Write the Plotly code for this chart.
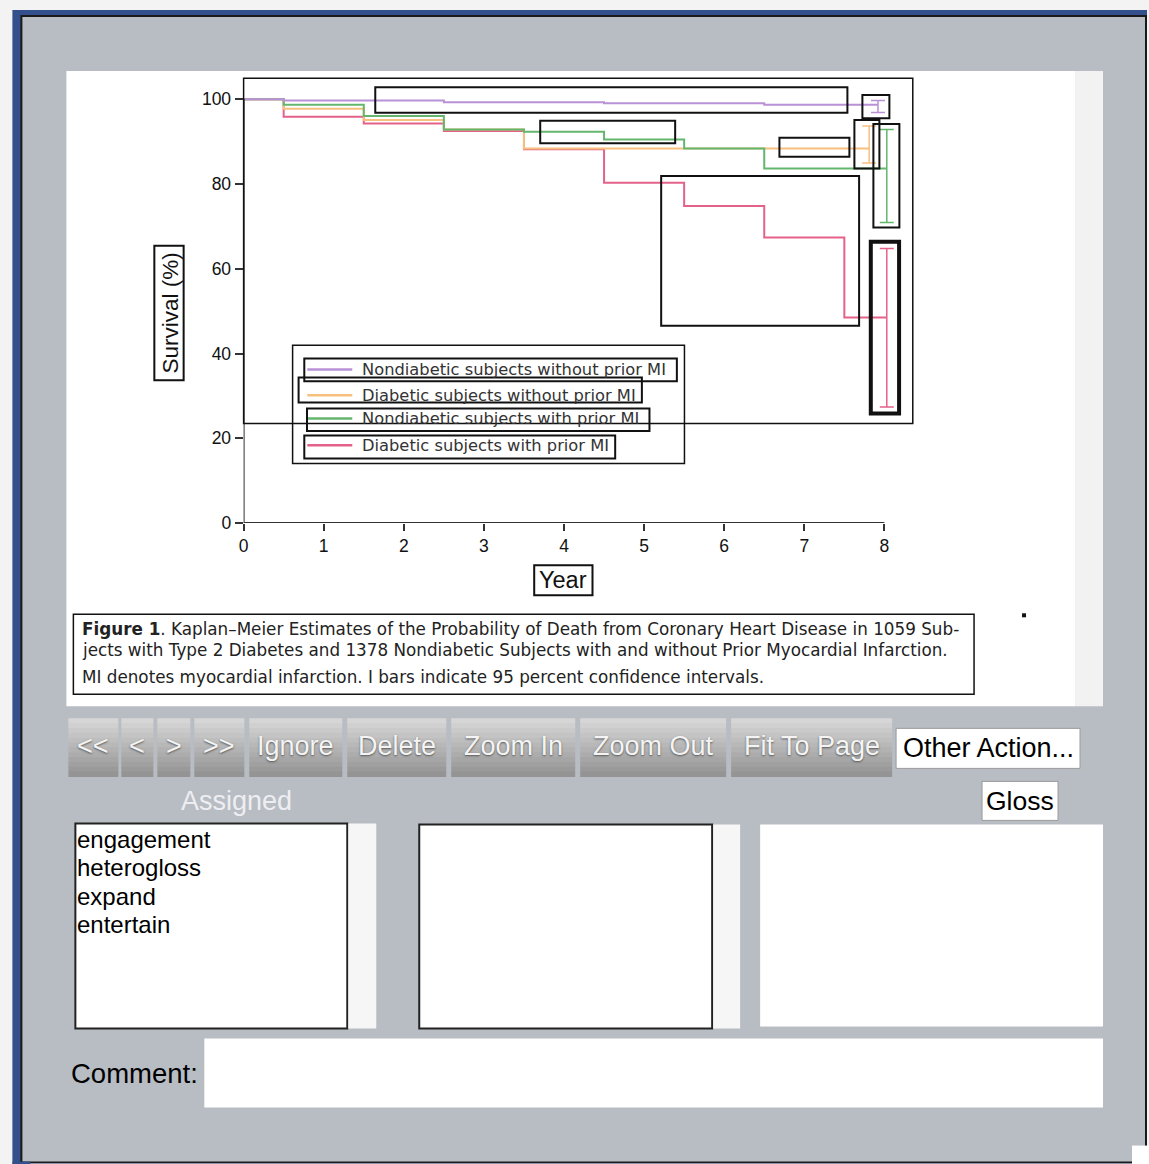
import plotly.graph_objects as go

# target picture size and the page size used to produce it
W, H = 1149, 1164
SX, OX, SY = 0.996, 4.6, 0.991      # observed photograph mapping (page -> picture)
WF, HF = 1149, 1175                  # figure size on the page

# ---------------- data ----------------
series_names = [
    "Nondiabetic subjects without prior MI",
    "Diabetic subjects without prior MI",
    "Nondiabetic subjects with prior MI",
    "Diabetic subjects with prior MI",
]
series_colors = ["rgb(185,145,215)", "rgb(247,192,125)", "rgb(100,182,110)", "rgb(228,98,138)"]

nd_noMI_x = [0, 0.5, 2.5, 4.5, 6.5, 7.92]
nd_noMI_y = [100, 99.7, 99.3, 99.05, 98.7, 98.7]
d_noMI_x = [0, 0.5, 1.5, 2.5, 3.5, 7.81]
d_noMI_y = [100, 97.8, 95.1, 92.9, 88.4, 88.4]
nd_MI_x = [0, 0.5, 1.5, 2.5, 3.5, 4.5, 5.5, 6.5, 8.03]
nd_MI_y = [100, 98.7, 96.05, 92.9, 92.35, 90.55, 88.4, 83.7, 83.7]
d_MI_x = [0, 0.5, 1.5, 2.5, 3.5, 4.5, 5.5, 6.5, 7.5, 8.03]
d_MI_y = [100, 95.9, 94.3, 92.5, 88.2, 80.3, 74.8, 67.4, 48.5, 48.5]

# 95% CI at end of follow-up (lower, upper)
ci_low = [96.9, 85.0, 70.95, 27.4]
ci_high = [99.7, 93.7, 92.9, 64.8]

x_ticks = [0, 1, 2, 3, 4, 5, 6, 7, 8]
y_ticks = [0, 20, 40, 60, 80, 100]

caption_lines = [
    "<b>Figure 1</b>. Kaplan\u2013Meier Estimates of the Probability of Death from Coronary Heart Disease in 1059 Sub-",
    "jects with Type 2 Diabetes and 1378 Nondiabetic Subjects with and without Prior Myocardial Infarction.",
    "MI denotes myocardial infarction. I bars indicate 95 percent confidence intervals.",
]
buttons = ["<<", "<", ">", ">>", "Ignore", "Delete", "Zoom In", "Zoom Out", "Fit To Page"]
assigned_items = ["engagement", "heterogloss", "expand", "entertain"]

series_x = [nd_noMI_x, d_noMI_x, nd_MI_x, d_MI_x]
series_y = [nd_noMI_y, d_noMI_y, nd_MI_y, d_MI_y]

# ---------------- helpers (picture pixel -> paper) ----------------
def px(x):
    return ((x - OX) / SX) / WF

def py(y):
    return 1 - (y / SY) / HF

shapes = []
annots = []

def rect(x0, y0, x1, y1, fill=None, line=None, lw=1, layer="below"):
    shapes.append(dict(type="rect", xref="paper", yref="paper",
                       x0=px(x0), x1=px(x1), y0=py(y1), y1=py(y0),
                       fillcolor=fill if fill else "rgba(0,0,0,0)",
                       line=dict(color=line if line else "rgba(0,0,0,0)", width=lw if line else 0),
                       layer=layer))

def hline(x0, x1, y, color, lw, layer="above"):
    shapes.append(dict(type="line", xref="paper", yref="paper",
                       x0=px(x0), x1=px(x1), y0=py(y), y1=py(y),
                       line=dict(color=color, width=lw), layer=layer))

SANS = "Liberation Sans, Arial, Helvetica, sans-serif"
FIG = "DejaVu Sans, Liberation Sans, sans-serif"

def text(t, x, y, size, color="#111", xanchor="left", yanchor="middle", family=SANS,
         angle=0, shadow=None):
    f = dict(size=size, color=color, family=family)
    if shadow:
        f["shadow"] = shadow
    annots.append(dict(text=t, x=px(x), y=py(y), xref="paper", yref="paper",
                       xanchor=xanchor, yanchor=yanchor, showarrow=False,
                       font=f, textangle=angle, borderpad=0))

# ---------------- UI frame ----------------
rect(12, 10, 1160, 1180, fill="#34508c")
rect(20, 15, 1147, 1163, fill="#1a1a1a")
rect(22, 17, 1145, 1161, fill="#b8bcc3")
rect(1147, 10, 1160, 1180, fill="#f3f3f3")
rect(12, 1163, 1160, 1180, fill="#f3f3f3")
rect(12, 1161, 30, 1164, fill="#34508c")
rect(1132, 1145, 1160, 1180, fill="#ffffff")

# white page area + scrollbar strip
rect(66, 71, 1075, 706, fill="#ffffff")
rect(1075, 71, 1103, 706, fill="#f2f2f2")

# caption box
rect(73, 614, 974, 694, fill="#ffffff", line="#111", lw=1.5)
cap_y = [629, 650, 677]
for t, yy in zip(caption_lines, cap_y):
    text(t, 81, yy, 16.8, color="#222", family=FIG)
# stray dot
rect(1022, 613, 1026, 617, fill="#111")

# buttons with gradient
btn_edges = [(68, 118), (121, 153), (157, 190), (194, 244), (249, 342), (347, 446),
             (451, 575), (580, 726), (731, 892)]
top_c = (214, 214, 214)
bot_c = (148, 148, 148)
nb = 12
by0, by1 = 718, 776
for (x0, x1), lab in zip(btn_edges, buttons):
    for i in range(nb):
        f = i / (nb - 1)
        c = tuple(int(top_c[k] + (bot_c[k] - top_c[k]) * f) for k in range(3))
        rect(x0, by0 + (by1 - by0) * i / nb, x1, by0 + (by1 - by0) * (i + 1) / nb + 0.5,
             fill="rgb(%d,%d,%d)" % c)
    text(lab, (x0 + x1) / 2, 746, 27, color="#f4f4f4", xanchor="center",
         shadow="0px 1px 2px #555")
rect(896, 728, 1080, 768, fill="#ffffff", line="#9a9a9a", lw=1)
text("Other Action...", 988, 748, 27, color="#000", xanchor="center")

text("Assigned", 236, 801, 27, color="#eeeef2", xanchor="center")
rect(982, 781, 1058, 820, fill="#ffffff", line="#9a9a9a", lw=1)
text("Gloss", 1020, 801, 26.5, color="#000", xanchor="center")

# list boxes
rect(75, 823, 347, 1028, fill="#ffffff", line="#222", lw=2)
rect(348, 823, 376, 1028, fill="#f6f6f6")
rect(419, 824, 712, 1028, fill="#ffffff", line="#222", lw=2)
rect(713, 824, 740, 1028, fill="#f6f6f6")
rect(760, 824, 1103, 1026, fill="#ffffff")
for i, it in enumerate(assigned_items):
    text(it, 76, 839 + 28.5 * i, 24, color="#000")

text("Comment:", 70, 1073, 27.5, color="#000")
rect(204, 1038, 1103, 1107, fill="#ffffff")

# ---------------- chart axes geometry ----------------
X0_PX, X8_PX = 243.3, 884.3
Y0_PX, Y100_PX = 522.7, 99.3
xs = (X8_PX - X0_PX) / 8.0
ys = (Y0_PX - Y100_PX) / 100.0
x_max = 8.5
y_max = 104
x_dom = [px(X0_PX), px(X0_PX + x_max * xs)]
y_dom = [py(Y0_PX), py(Y0_PX - y_max * ys)]

fig = go.Figure()

# draw order: pink, orange, green, purple (purple on top)
order = [3, 1, 2, 0]
for i in order:
    fig.add_trace(go.Scatter(x=series_x[i], y=series_y[i], mode="lines", line_shape="hv",
                             line=dict(color=series_colors[i], width=2),
                             name=series_names[i], showlegend=False, hoverinfo="skip"))
for i in order:
    xe = series_x[i][-1]
    ye = series_y[i][-1]
    fig.add_trace(go.Scatter(x=[xe], y=[ye], mode="markers",
                             marker=dict(size=1, color="rgba(0,0,0,0)"),
                             error_y=dict(type="data", symmetric=False,
                                          array=[ci_high[i] - ye], arrayminus=[ye - ci_low[i]],
                                          color=series_colors[i], thickness=1.5, width=7),
                             showlegend=False, hoverinfo="skip"))

# axis lines in data coordinates
shapes.append(dict(type="line", xref="x", yref="y", x0=0, x1=8, y0=0, y1=0,
                   line=dict(color="#333", width=2), layer="above"))
shapes.append(dict(type="line", xref="x", yref="y", x0=0, x1=0, y0=0, y1=100,
                   line=dict(color="#333", width=2), layer="above"))

# axis titles (boxed)
rect(154, 245.7, 183.3, 380, line="#111", lw=2, layer="above")
text("Survival (%)", 170, 313, 22.5, color="#111", xanchor="center", angle=-90)
rect(534, 565, 592.3, 595, line="#111", lw=2, layer="above")
text("Year", 563, 580, 23.5, color="#111", xanchor="center")

# legend (drawn)
leg_y = [369.3, 395, 418.3, 445]
for i, yy in enumerate(leg_y):
    hline(307, 352, yy, series_colors[i], 2.5)
    text(series_names[i], 361, yy, 16.3, color="#333", family=FIG)
rect(292.3, 345, 684.3, 463.3, line="#111", lw=1.5, layer="above")
for (x0, y0, x1, y1) in [(304, 358.3, 676.7, 381), (298.3, 377.3, 641.7, 402.3),
                         (306.7, 408.3, 649.3, 430.7), (304, 435.3, 615, 458.3)]:
    rect(x0, y0, x1, y1, line="#111", lw=2, layer="above")

# annotation boxes over chart
rect(243.3, 78.3, 912.7, 423.3, line="#111", lw=1.5, layer="above")
for (x0, y0, x1, y1) in [(375, 87.3, 847.3, 112.7), (862.3, 95, 889.3, 118.3),
                         (540, 120.7, 675, 143.3), (779.3, 137.7, 849.3, 156.7),
                         (854.3, 120, 879.3, 168.3), (873.3, 124, 899.3, 227.3),
                         (661, 176, 859, 325.7)]:
    rect(x0, y0, x1, y1, line="#111", lw=2, layer="above")
rect(870.7, 241.7, 899, 413.3, line="#111", lw=4, layer="above")

fig.update_layout(
    width=WF, height=HF, margin=dict(l=0, r=0, t=0, b=0),
    paper_bgcolor="#f3f3f3", plot_bgcolor="rgba(0,0,0,0)",
    shapes=shapes, annotations=annots, showlegend=False,
    xaxis=dict(domain=x_dom, range=[0, x_max], tickvals=x_ticks, ticks="outside",
               ticklen=7, tickwidth=2, tickcolor="#333", showgrid=False, zeroline=False,
               showline=False, tickfont=dict(size=17.5, color="#111", family=SANS),
               fixedrange=True),
    yaxis=dict(domain=y_dom, range=[0, y_max], tickvals=y_ticks, ticks="outside",
               ticklen=8, tickwidth=2, tickcolor="#333", showgrid=False, zeroline=False,
               showline=False, tickfont=dict(size=17.5, color="#111", family=SANS),
               fixedrange=True),
)

fig.write_html("out.html", config={"displayModeBar": False},
               post_script="document.body.style.margin='0';document.body.style.overflow='hidden';")
